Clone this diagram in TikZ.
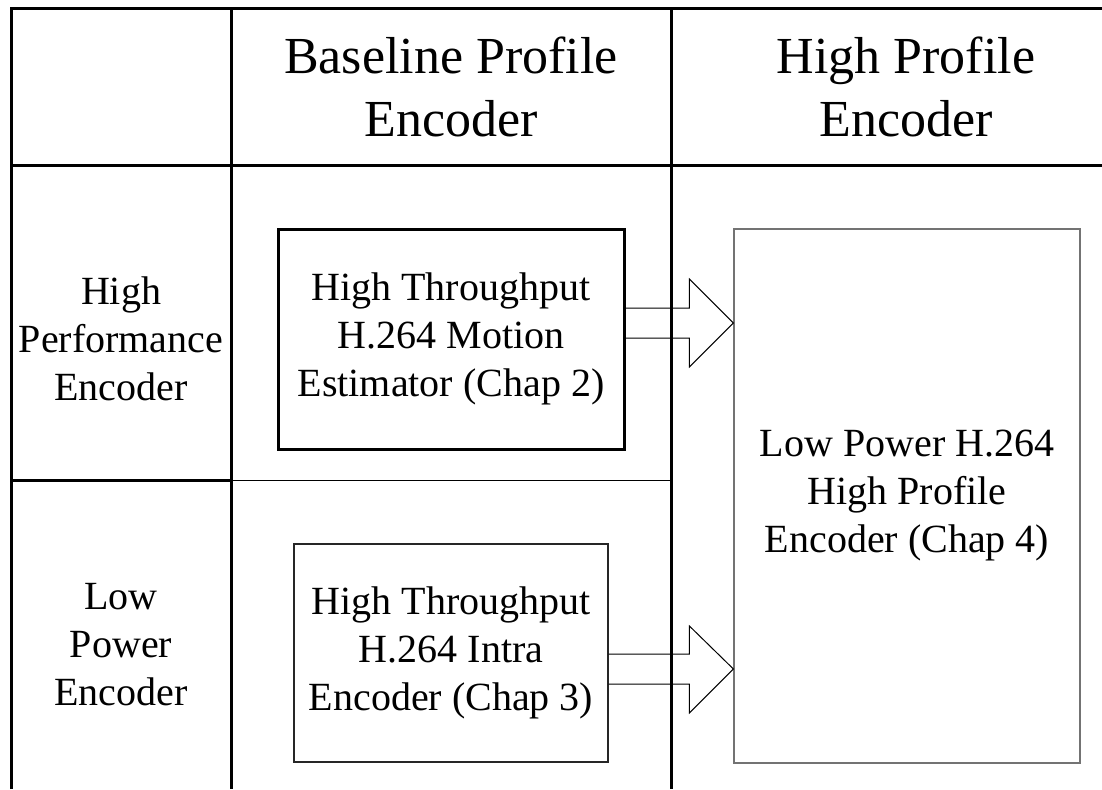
\documentclass[tikz,border=0pt]{standalone}
\usepackage{fontspec}
\setmainfont{Liberation Serif}
\usetikzlibrary{calc}
\begin{document}
\tikzset{
  gridline/.style={line width=2.25pt, black},
  thingrid/.style={line width=0.75pt, black},
  boxtxt/.style={font=\fontsize{30}{36}\selectfont, align=center, inner sep=0pt},
  hdr/.style={font=\fontsize{39}{47}\selectfont, align=center, inner sep=0pt},
  thickbox/.style={draw, line width=2.25pt, boxtxt},
  thinbox/.style={draw=black!85, line width=0.9pt, boxtxt},
  graybox/.style={draw=black!55, line width=0.9pt, boxtxt},
  blockarrow/.style={draw, line width=0.75pt, line join=miter},
}
\begin{tikzpicture}[x=0.75pt, y=-0.75pt]
\useasboundingbox (0,0) rectangle (1102,789);
% table grid
\draw[gridline] (11,789) -- (11,8) -- (1102,8);
\draw[gridline] (11,165) -- (1102,165);
\draw[gridline] (231,8) -- (231,789);
\draw[gridline] (671,8) -- (671,789);
\draw[gridline] (11,480) -- (231,480);
\draw[thingrid] (231,480) -- (671,480);
% headers
\node[hdr] (h1) at (451,87) {Baseline Profile\\Encoder};
\node[hdr] (h2) at (906,87) {High Profile\\Encoder};
\node[boxtxt] (l1) at (121,339) {High\\Performance\\Encoder};
\node[boxtxt] (l2) at (121,645) {Low\\Power\\Encoder};
% boxes
\node[thickbox, minimum width=259.5pt, minimum height=165pt] (b1) at (451,339)
  {High Throughput\\H.264 Motion\\Estimator (Chap 2)};
\node[thinbox, minimum width=235.5pt, minimum height=163.5pt] (b2) at (451,653)
  {High Throughput\\H.264 Intra\\Encoder (Chap 3)};
\node[graybox, minimum width=259.5pt, minimum height=400.5pt] (rb) at (907,496)
  {Low Power H.264\\High Profile\\Encoder (Chap 4)};
% block arrows
\coordinate (t1) at (rb.west |- 0,323);
\coordinate (t2) at (rb.west |- 0,669);
\draw[blockarrow] ($(b1.east|-t1)+(0,-15)$) -- ($(t1)+(-44,-15)$) -- ($(t1)+(-44,-44)$)
  -- (t1) -- ($(t1)+(-44,44)$) -- ($(t1)+(-44,15)$) -- ($(b1.east|-t1)+(0,15)$);
\draw[blockarrow] ($(b2.east|-t2)+(0,-15)$) -- ($(t2)+(-44,-15)$) -- ($(t2)+(-44,-43)$)
  -- (t2) -- ($(t2)+(-44,44)$) -- ($(t2)+(-44,15)$) -- ($(b2.east|-t2)+(0,15)$);
\end{tikzpicture}
\end{document}
